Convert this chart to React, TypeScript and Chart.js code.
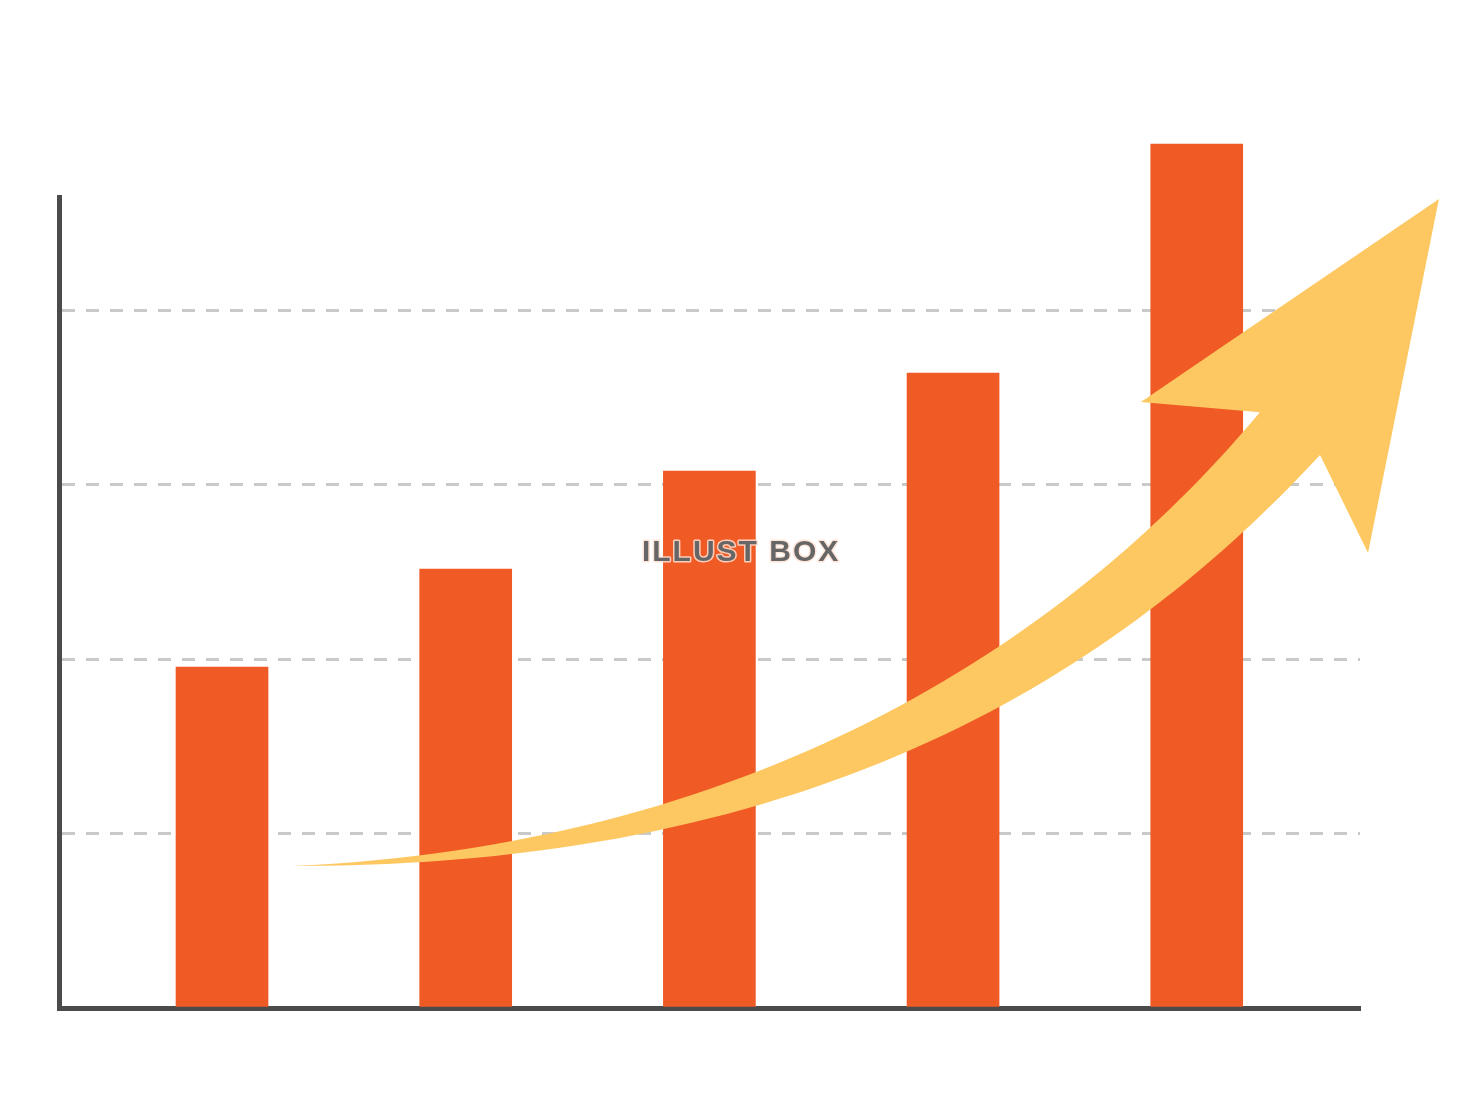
import React, { useEffect, useRef } from "react";
import { Chart, registerables } from "chart.js";

Chart.register(...registerables);

// ---- data ----
const categories = [1, 2, 3, 4, 5];
const values = [1.954, 2.516, 3.077, 3.639, 4.951];
const gridTicks = [0, 1, 2, 3, 4];
const yMax = 4.648;
const xMin = 0.331;
const xMax = 5.67;

// arrow shaft edges as cubic Bézier control points, in data units (x = category position, y = value)
const arrowUpper: number[][] = [[1.287, 0.814], [3.134, 0.928], [4.439, 2.04], [5.259, 3.415]];
const arrowLower: number[][] = [[1.287, 0.814], [3.339, 0.808], [4.603, 1.807], [5.506, 3.169]];
// arrow head: left barb, tip, right barb
const arrowHead: number[][] = [[4.771, 3.473], [5.994, 4.636], [5.703, 2.607]];
const watermark = "ILLUST BOX";

const BAR = "#f05a24";
const ARROW = "#fdc862";
const AXIS = "#4b4b4b";
const GRID = "#c9c9c9";

const overlayPlugin = {
  id: "overlay",
  afterDatasetsDraw(chart: any) {
    const ctx: CanvasRenderingContext2D = chart.ctx;
    const xs = chart.scales.x;
    const ys = chart.scales.y;
    const toPx = (p: number[]) => [xs.getPixelForValue(p[0]), ys.getPixelForValue(p[1])];

    // watermark
    ctx.save();
    ctx.font = "bold 30px 'Liberation Sans', Arial, sans-serif";
    (ctx as any).letterSpacing = "2px";
    ctx.textAlign = "center";
    ctx.textBaseline = "alphabetic";
    const wx = xs.getPixelForValue(3.13);
    const wy = ys.getPixelForValue(2.56);
    ctx.lineJoin = "round";
    ctx.lineWidth = 3;
    ctx.strokeStyle = "rgba(255,225,210,0.85)";
    ctx.strokeText(watermark, wx, wy);
    ctx.fillStyle = "#666666";
    ctx.fillText(watermark, wx, wy);
    ctx.restore();

    // arrow
    const u = arrowUpper.map(toPx);
    const l = arrowLower.map(toPx);
    const h = arrowHead.map(toPx);
    ctx.save();
    ctx.beginPath();
    ctx.moveTo(u[0][0], u[0][1]);
    ctx.bezierCurveTo(u[1][0], u[1][1], u[2][0], u[2][1], u[3][0], u[3][1]);
    h.forEach((p) => ctx.lineTo(p[0], p[1]));
    ctx.lineTo(l[3][0], l[3][1]);
    ctx.bezierCurveTo(l[2][0], l[2][1], l[1][0], l[1][1], l[0][0], l[0][1]);
    ctx.closePath();
    ctx.fillStyle = ARROW;
    ctx.fill();
    ctx.restore();
  },
};

export default function App() {
  const ref = useRef<HTMLCanvasElement | null>(null);
  useEffect(() => {
    document.body.style.margin = "0";
    const canvas = ref.current;
    if (!canvas) return;
    const chart = new Chart(canvas, {
      type: "bar",
      data: {
        datasets: [
          {
            data: categories.map((c, i) => ({ x: c, y: values[i] })),
            backgroundColor: BAR,
            borderWidth: 0,
            barThickness: 92,
            clip: false as any,
          },
        ],
      },
      options: {
        responsive: false,
        animation: false,
        devicePixelRatio: 1,
        layout: { padding: { left: 59, right: 120, top: 197, bottom: 102 } },
        plugins: { legend: { display: false }, tooltip: { enabled: false } },
        scales: {
          x: {
            type: "linear",
            min: xMin,
            max: xMax,
            offset: false,
            ticks: { display: false },
            grid: { display: false, drawTicks: false, tickLength: 0, offset: false },
            border: { display: true, width: 5, color: AXIS },
          },
          y: {
            type: "linear",
            min: 0,
            max: yMax,
            afterBuildTicks: (scale: any) => {
              scale.ticks = gridTicks.map((v) => ({ value: v }));
            },
            ticks: { display: false },
            grid: {
              drawTicks: false,
              tickLength: 0,
              lineWidth: 3,
              color: (c: any) => (c.tick && c.tick.value === 0 ? "rgba(0,0,0,0)" : GRID),
            },
            border: { display: true, width: 5, color: AXIS, dash: [13, 11], dashOffset: 0 },
          },
        },
      } as any,
      plugins: [overlayPlugin],
    });
    return () => chart.destroy();
  }, []);
  return (
    <div style={{ width: 1480, height: 1110, background: "#fff" }}>
      <canvas ref={ref} width={1480} height={1110} style={{ display: "block" }} />
    </div>
  );
}
